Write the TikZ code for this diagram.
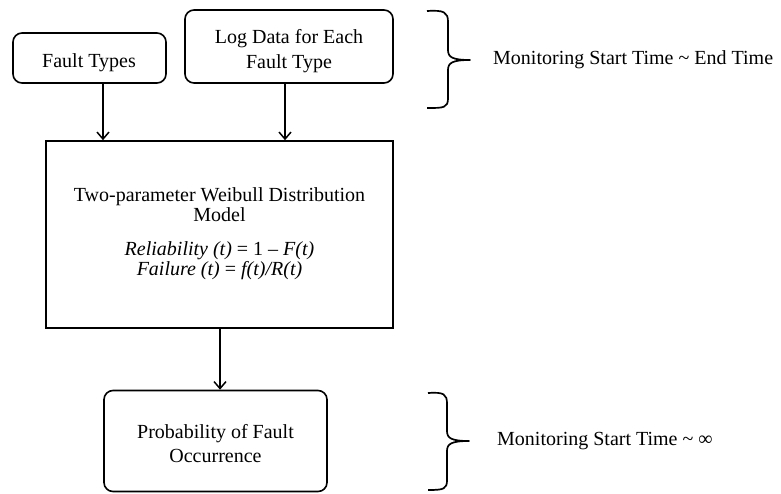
\documentclass[tikz,border=0pt]{standalone}
\usepackage{fontspec}
\setmainfont{Liberation Serif}
\usetikzlibrary{arrows.meta,calc}
\begin{document}
\begin{tikzpicture}[x=1pt,y=-1pt,
  box/.style={draw,line width=1.6pt,inner sep=0pt},
  rbox/.style={box,rounded corners=9pt},
  txt/.style={inner sep=0pt,font=\fontsize{20}{24}\selectfont},
  flow/.style={line width=1.5pt,-{Straight Barb[length=7pt,width=12pt,line width=1.5pt]}},
  brace/.style={line width=1.7pt,line join=round}]
\useasboundingbox (0,0) rectangle (781,493);
% boxes
\node[rbox,minimum width=153pt,minimum height=50pt] (ft) at (89.5,58) {};
\node[rbox,minimum width=208pt,minimum height=73pt] (log) at (289,46.5) {};
\node[box,minimum width=347pt,minimum height=187pt] (main) at (219.5,234.5) {};
\node[rbox,minimum width=223pt,minimum height=101pt] (prob) at (215.5,441) {};
% texts
\node[txt,anchor=base] (ftt) at (89,67.3) {Fault Types};
\node[txt,anchor=base] (logt1) at (289,43) {Log Data for Each};
\node[txt,anchor=base] (logt2) at (289,68) {Fault Type};
\node[txt,anchor=base] (mt1) at (219.5,201) {Two-parameter Weibull Distribution};
\node[txt,anchor=base] (mt2) at (219.5,221) {Model};
\node[txt,anchor=base] (mf1) at (219.5,255) {\itshape Reliability (t) \upshape= 1 – \itshape F(t)};
\node[txt,anchor=base] (mf2) at (219.5,275) {\itshape Failure (t) \upshape= \itshape f(t)/R(t)};
\node[txt,anchor=base] (pt1) at (215.5,438) {Probability of Fault};
\node[txt,anchor=base] (pt2) at (215.5,462) {Occurrence};
\node[txt,anchor=west] (lab1) at (493,60) {Monitoring Start Time \textasciitilde{} End Time};
\node[txt,anchor=west] (lab2) at (497,441) {Monitoring Start Time \textasciitilde{} ∞};
% arrows
\draw[flow] ([xshift=13.5pt]ft.south) -- ([xshift=13.5pt]ft.south |- main.north);
\draw[flow] ([xshift=-4pt]log.south) -- ([xshift=-4pt]log.south |- main.north);
\draw[flow] ([xshift=0.5pt]main.south) -- ([xshift=0.5pt]main.south |- prob.north);
% braces
\coordinate (b1) at (470,60);
\draw[brace] (427,11) .. controls (444,10) and (448,12) .. (448,22) -- (448,50)
  .. controls (448,57) and (452,60) .. (b1)
  .. controls (452,60) and (448,63) .. (448,70) -- (448,98)
  .. controls (448,108) and (444,108) .. (427,108);
\coordinate (b2) at (469,441);
\draw[brace] (428,393) .. controls (444,392) and (447,394) .. (447,404) -- (447,431)
  .. controls (447,438) and (451,441) .. (b2)
  .. controls (451,441) and (447,444) .. (447,451) -- (447,480)
  .. controls (447,489) and (444,490) .. (428,490);
\end{tikzpicture}
\end{document}
